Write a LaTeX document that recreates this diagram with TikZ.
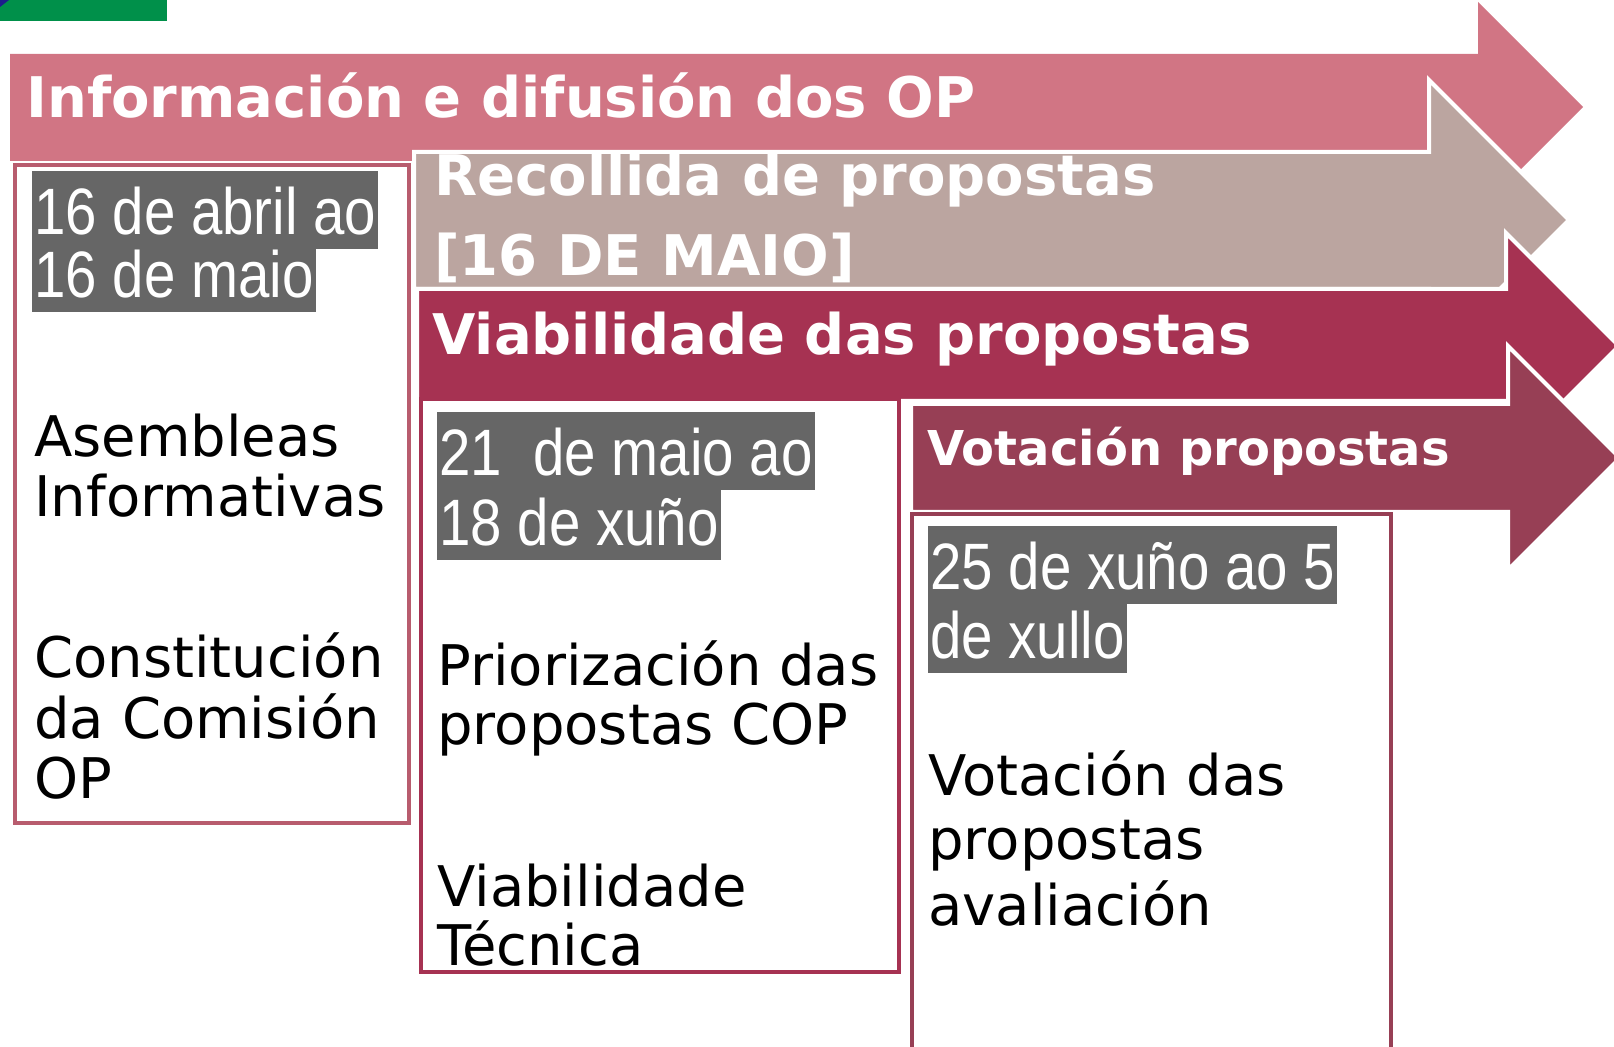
\documentclass[tikz,border=0pt]{standalone}
\usepackage{fontspec}
\setmainfont{DejaVu Sans}
\newfontfamily\datefont[FakeStretch=0.86]{Liberation Sans}
\usepackage{xcolor}

\definecolor{infopink}{HTML}{D17584}
\definecolor{recolgray}{HTML}{BBA5A0}
\definecolor{viabred}{HTML}{A63252}
\definecolor{votared}{HTML}{973F55}
\definecolor{infoline}{HTML}{B85C6E}
\definecolor{dategray}{HTML}{666666}
\definecolor{logogreen}{HTML}{00904A}
\definecolor{logoblue}{HTML}{1D1D8C}

\begin{document}
\begin{tikzpicture}[x=0.5pt, y=-0.5pt,
    arrowshape/.style={draw=white, line width=2pt, line join=miter},
    phasebox/.style={line width=2pt, fill=white},
    heading/.style={anchor=base west, inner sep=0pt, text=white, font=\fontsize{28}{30}\selectfont\bfseries},
    bodytext/.style={anchor=base west, inner sep=0pt, font=\fontsize{28}{30}\selectfont},
    dateline/.style={anchor=base west, fill=dategray, text=white, inner xsep=1pt, inner ysep=0pt, text depth=7pt, font=\datefont\fontsize{32.8}{35}\selectfont},
    datetop/.style={dateline, text height=32pt},
    daterow/.style={dateline, text height=28pt}]
            \useasboundingbox (0,0) rectangle (1614,1047);
            \clip (0,0) rectangle (1614,1047);

            % Logo strip
            \fill[logogreen] (0,0) rectangle (167,21);
            \fill[logoblue] (0,0) -- (9,0) -- (0,7) -- cycle;

            % Phase 1
            \fill[infopink] (10,54) -- (1478,54) -- (1478,2) -- (1583,107) -- (1478,212) -- (1478,161) -- (10,161) -- cycle;
            \node[heading] (info) at (26,118) {Información e difusión dos OP};
            \draw[phasebox, draw=infoline] (15,165) rectangle (409,823);
            \node[datetop] (d1a) at (32,235) {16 de abril ao};
            \node[daterow, text height=25.5pt] (d1b) at (32,298) {16 de maio};
            \node[bodytext] (t1a) at (34,457) {Asembleas};
            \node[bodytext] (t1b) at (34,517) {Informativas};
            \node[bodytext] (t1c) at (34,678) {Constitución};
            \node[bodytext] (t1d) at (34,739) {da Comisión};
            \node[bodytext] (t1e) at (34,799) {OP};

            % Phase 2
            \filldraw[arrowshape, fill=recolgray] (414,152) -- (1429,152) -- (1429,80) -- (1569,220) -- (1429,360) -- (1429,289) -- (414,289) -- cycle;
            \begin{scope}
                \clip (416,154) rectangle (1427,287);
                \node[heading] (recol1) at (434,196) {Recollida de propostas};
                \node[heading] (recol2) at (434,276) {[16 DE MAIO]};
            \end{scope}

            % Phase 3
            \filldraw[arrowshape, fill=viabred] (417,289) -- (1506,289) -- (1506,233) -- (1619,346) -- (1506,459) -- (1506,401) -- (417,401) -- cycle;
            \node[heading] (viab) at (432,355) {Viabilidade das propostas};
            \draw[phasebox, draw=viabred] (421,399) rectangle (899,972);
            \node[datetop] (d2a) at (437,476) {21\ \ de maio ao};
            \node[daterow] (d2b) at (437,546) {18 de xuño};
            \node[bodytext] (t2a) at (437,686) {Priorización das};
            \node[bodytext] (t2b) at (437,745) {propostas COP};
            \node[bodytext] (t2c) at (437,907) {Viabilidade};
            \node[bodytext] (t2d) at (437,966) {Técnica};

            % Phase 4
            \filldraw[arrowshape, fill=votared] (911,404) -- (1508,404) -- (1508,346) -- (1620,458) -- (1508,570) -- (1508,512) -- (911,512) -- cycle;
            \node[heading, font=\fontsize{24}{26}\selectfont\bfseries] (vota) at (927,466) {Votación propostas};
            \draw[phasebox, draw=votared] (912,514) rectangle (1391,1070);
            \node[datetop] (d3a) at (928,590) {25 de xuño ao 5};
            \node[daterow] (d3b) at (928,659) {de xullo};
            \node[bodytext] (t3a) at (928,796) {Votación das};
            \node[bodytext] (t3b) at (928,860) {propostas};
            \node[bodytext] (t3c) at (928,926) {avaliación};
        \end{tikzpicture}
\end{document}
